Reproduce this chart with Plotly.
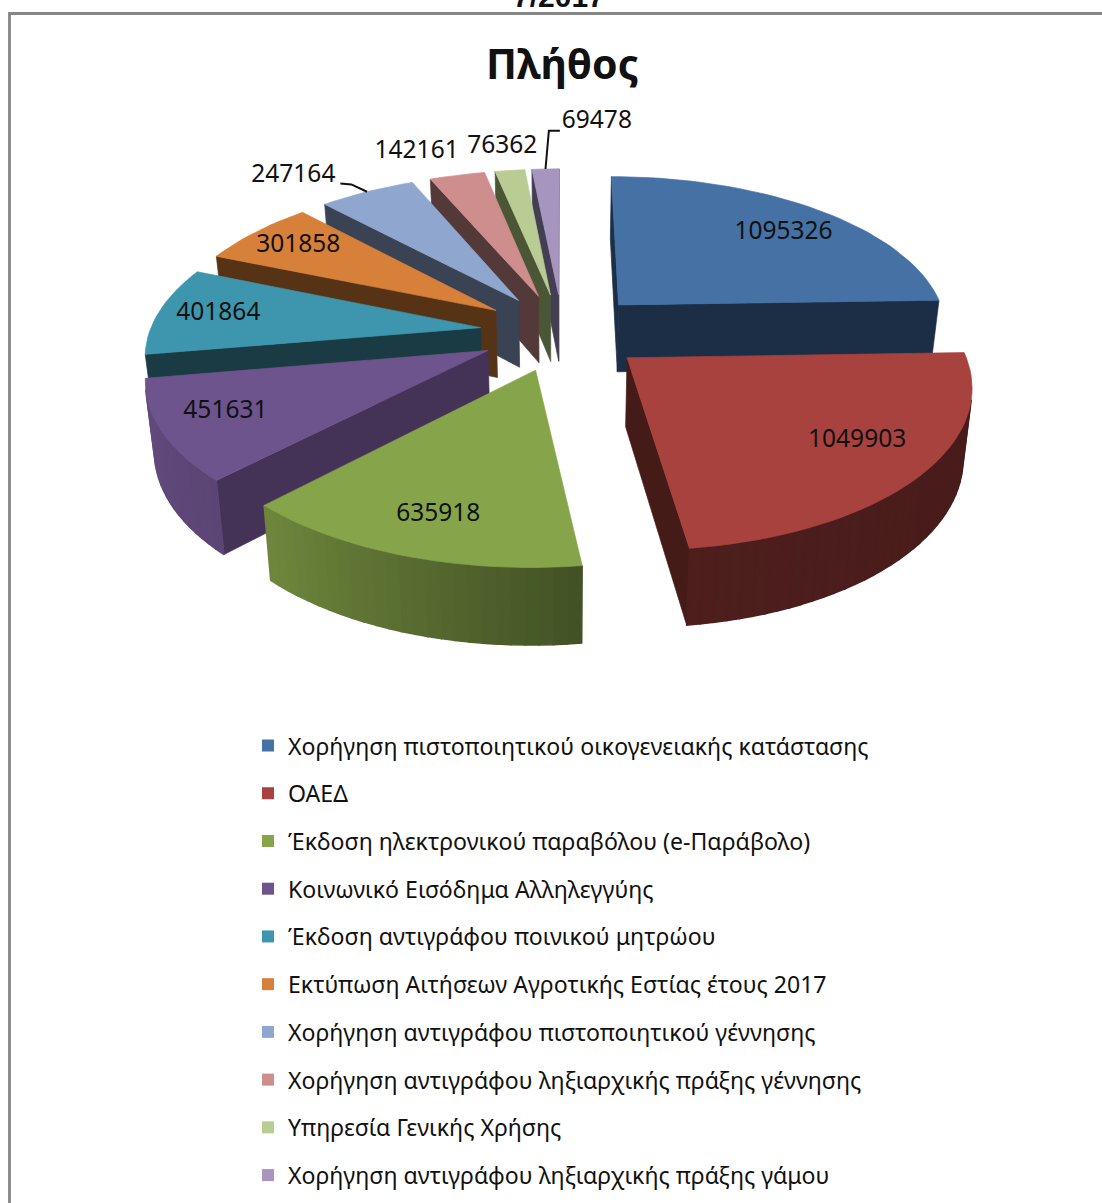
import numpy as np
import plotly.graph_objects as go

categories = [
    "Χορήγηση πιστοποιητικού οικογενειακής κατάστασης",
    "ΟΑΕΔ",
    "Έκδοση ηλεκτρονικού παραβόλου (e-Παράβολο)",
    "Κοινωνικό Εισόδημα Αλληλεγγύης",
    "Έκδοση αντιγράφου ποινικού μητρώου",
    "Εκτύπωση Αιτήσεων Αγροτικής Εστίας έτους 2017",
    "Χορήγηση αντιγράφου πιστοποιητικού γέννησης",
    "Χορήγηση αντιγράφου ληξιαρχικής πράξης γέννησης",
    "Υπηρεσία Γενικής Χρήσης",
    "Χορήγηση αντιγράφου ληξιαρχικής πράξης γάμου",
]
values = [1095326, 1049903, 635918, 451631, 401864, 301858, 247164, 142161, 76362, 69478]
top_colors = ["#4571A5", "#A8423F", "#86A44A", "#6E548D", "#3E96AE",
              "#D7803A", "#8FA6CE", "#CE8E8D", "#B9CC93", "#A595BF"]
face_colors = ["#1B2E45", "#451B18", "#4B5A2A", "#443356", "#1A3B44",
               "#573316", "#3A4353", "#533938", "#4B5637", "#443E52"]
title = "Πλήθος"
cut_title = "7/2017"

# perspective model of the tilted pie
CX, CY, AX, BY, K = 562.5, 332, 331, 155, 0.15
EXPLODE = 0.25
SHRINK = 0.978
LABEL_R = [.77, .775, .80, .81, .815, .81, 1.28, 1.26, 1.22, 1.46]
LABEL_DA = [3, -3, -.8, 1.3, 0, 0, -6.8, -3.9, 0, 8.4]
DRAW_ORDER = [0, 9, 8, 7, 6, 5, 4, 3, 2, 1]
LEADERS = {6: (47, 8, 58), 9: (-37, 9, -48)}


def project(X, Y):
    s = 1 / (1 + K * Y)
    return CX + AX * X * s, CY - BY * Y * s, s


def lower(x, y, s):
    return CX + (x - CX) * SHRINK, y + 26 + 42 * s


def rgb(hexcolor):
    return [int(hexcolor[i:i + 2], 16) for i in (1, 3, 5)]


def poly(fig, xs, ys, color, width=0.7):
    fig.add_trace(go.Scatter(x=xs, y=ys, mode="lines", fill="toself", fillcolor=color,
                             line=dict(color=color, width=width), hoverinfo="skip",
                             showlegend=False))


def cross(a, b):
    return a[0] * b[1] - a[1] * b[0]


def side_visible(P, Q, inner):
    """Side below segment P-Q shows if it extrudes away from the wedge interior."""
    mx, my, ms = project((P[0] + Q[0]) / 2, (P[1] + Q[1]) / 2)
    bx, by = lower(mx, my, ms)
    px, py, _ = project(*P)
    qx, qy, _ = project(*Q)
    ix, iy, _ = project(*inner)
    d = (qx - px, qy - py)
    return cross(d, (bx - mx, by - my)) * cross(d, (ix - px, iy - py)) < 0


def face(fig, P, Q, color, width=0.7):
    x1, y1, s1 = project(*P)
    x2, y2, s2 = project(*Q)
    b2 = lower(x2, y2, s2)
    b1 = lower(x1, y1, s1)
    poly(fig, [x1, x2, b2[0], b1[0], x1], [y1, y2, b2[1], b1[1], y1], color, width)


total = sum(values)
bounds = np.concatenate([[0], np.cumsum(values) / total * 360])
fig = go.Figure()
label_x, label_y, label_text = [None] * 10, [None] * 10, [None] * 10

for i in DRAW_ORDER:
    a0, a1 = bounds[i], bounds[i + 1]
    mid = np.radians((a0 + a1) / 2)
    ox, oy = EXPLODE * np.sin(mid), EXPLODE * np.cos(mid)
    th = np.radians(np.linspace(a0, a1, max(int((a1 - a0) / 2), 4) + 1))
    rx, ry = ox + np.sin(th), oy + np.cos(th)
    apex = (ox, oy)
    inner = (ox + .5 * np.sin(mid), oy + .5 * np.cos(mid))
    # radial side faces
    for rim in ((rx[0], ry[0]), (rx[-1], ry[-1])):
        if side_visible(apex, rim, inner):
            face(fig, apex, rim, face_colors[i])
    # curved outer side with a stepped shade
    base = rgb(top_colors[i])
    for j in range(len(th) - 1):
        P, Q = (rx[j], ry[j]), (rx[j + 1], ry[j + 1])
        if not side_visible(P, Q, apex):
            continue
        deg = np.degrees((th[j] + th[j + 1]) / 2)
        f = np.interp(deg, [90, 172.7, 173, 224, 270], [.42, .46, .5, .83, .92])
        col = "rgb(%d,%d,%d)" % tuple(int(c * f) for c in base)
        face(fig, P, Q, col, 1.5)
    # top surface
    sx, sy, _ = project(np.r_[ox, rx, ox], np.r_[oy, ry, oy])
    poly(fig, sx, sy, top_colors[i])
    # label
    la = mid + np.radians(LABEL_DA[i])
    lx, ly, _ = project(ox + LABEL_R[i] * np.sin(la), oy + LABEL_R[i] * np.cos(la))
    label_x[i], label_y[i], label_text[i] = lx, ly, str(values[i])
    if i in LEADERS:
        dx, dy, ex = LEADERS[i]
        mx, my, _ = project(ox + np.sin(mid), oy + np.cos(mid))
        fig.add_trace(go.Scatter(x=[lx + dx, lx + ex, mx], y=[ly + dy, ly + dy + (1 if i == 6 else 0), my],
                                 mode="lines", line=dict(color="#111111", width=2),
                                 hoverinfo="skip", showlegend=False))

fig.add_trace(go.Scatter(x=label_x, y=label_y, text=label_text, mode="text",
                         textposition="middle center",
                         textfont=dict(family="Noto Sans", size=24.5, color="#111111"),
                         hoverinfo="skip", showlegend=False))

for i, name in enumerate(categories):
    fig.add_trace(go.Scatter(x=[None], y=[None], mode="markers", name=name, legendgroup=str(i),
                             marker=dict(symbol="square", size=12, color=top_colors[i])))

fig.update_layout(
    width=1102, height=1203, margin=dict(l=0, r=0, t=0, b=0),
    paper_bgcolor="white", plot_bgcolor="white",
    xaxis=dict(range=[0, 1102], visible=False, fixedrange=True),
    yaxis=dict(range=[1203, 0], visible=False, fixedrange=True),
    font=dict(family="Noto Sans", color="#111111"),
    legend=dict(x=248 / 1102, y=1 - 724 / 1203, xanchor="left", yanchor="top",
                font=dict(family="Noto Sans", size=23.1, color="#111111"),
                tracegroupgap=14.7, bgcolor="rgba(0,0,0,0)"),
    shapes=[dict(type="rect", xref="x", yref="y", x0=9.5, y0=13.5, x1=1115, y1=1230,
                 line=dict(color="#868686", width=2.8), layer="below")],
    annotations=[
        dict(text="<b>%s</b>" % title, x=562, y=63, xref="x", yref="y", showarrow=False,
             font=dict(family="Noto Sans", size=41, color="#111111")),
        dict(text="<b>%s</b>" % cut_title, x=559 / 1102, y=1, xref="paper", yref="paper",
             yanchor="middle", yshift=4, showarrow=False,
             font=dict(family="Liberation Sans", size=30, color="#111111")),
    ],
)
fig.write_html("out.html", config=dict(displayModeBar=False),
               post_script="document.body.style.margin='0';document.documentElement.style.overflow='hidden';")
